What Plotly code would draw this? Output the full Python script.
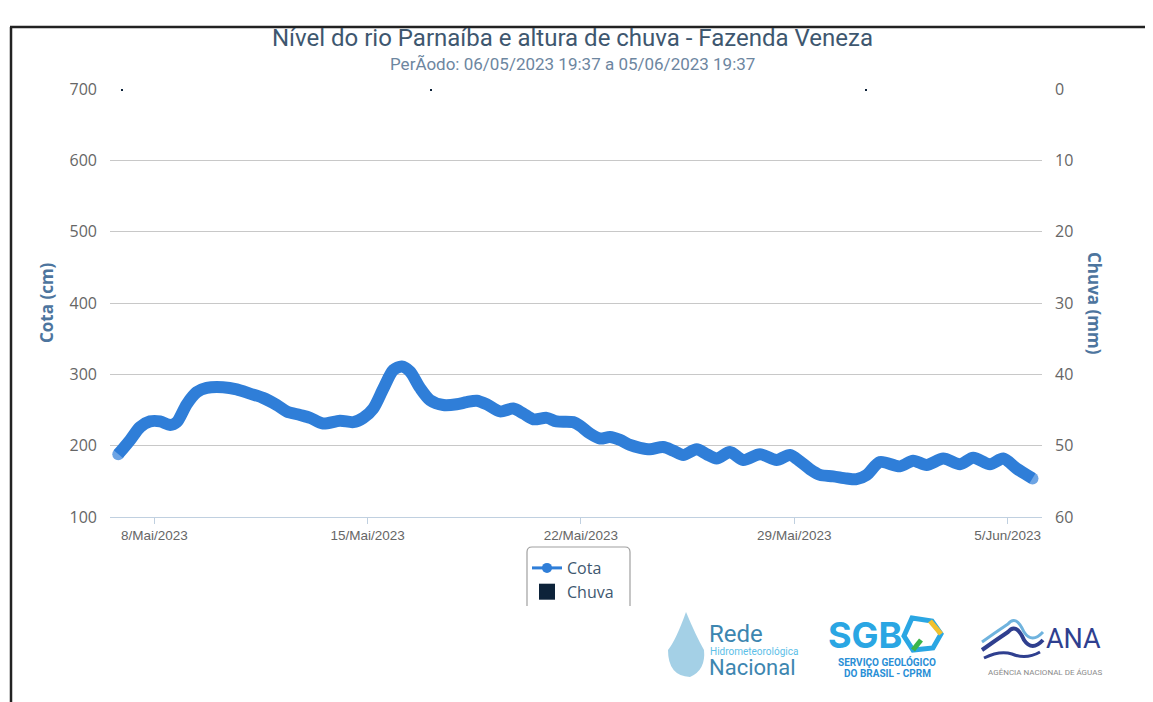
import plotly.graph_objects as go

# ---------------- data ----------------
cota_time = [
    "2023-05-06 19:37", "2023-05-07 05:00", "2023-05-07 12:45", "2023-05-07 20:35",
    "2023-05-08 04:30", "2023-05-08 12:25", "2023-05-08 17:40", "2023-05-09 01:30",
    "2023-05-09 09:25", "2023-05-09 17:15", "2023-05-10 06:05", "2023-05-10 16:55",
    "2023-05-11 03:20", "2023-05-11 13:35", "2023-05-12 00:25", "2023-05-12 08:15",
    "2023-05-12 18:45", "2023-05-13 02:40", "2023-05-13 12:50", "2023-05-14 02:15",
    "2023-05-14 12:40", "2023-05-14 20:35", "2023-05-15 04:25", "2023-05-15 12:20",
    "2023-05-15 20:15", "2023-05-16 02:50", "2023-05-16 09:20", "2023-05-16 17:15",
    "2023-05-17 01:05", "2023-05-17 11:35", "2023-05-17 22:10", "2023-05-18 06:00",
    "2023-05-18 13:55", "2023-05-18 21:45", "2023-05-19 08:15", "2023-05-19 18:40",
    "2023-05-20 02:35", "2023-05-20 10:30", "2023-05-20 21:00", "2023-05-21 04:50",
    "2023-05-21 18:00", "2023-05-21 23:15", "2023-05-22 07:05", "2023-05-22 15:00",
    "2023-05-22 22:50", "2023-05-23 06:45", "2023-05-23 14:35", "2023-05-23 22:30",
    "2023-05-24 06:20", "2023-05-24 16:50", "2023-05-25 00:40", "2023-05-25 08:35",
    "2023-05-25 19:05", "2023-05-26 03:00", "2023-05-26 10:50", "2023-05-26 21:20",
    "2023-05-27 07:50", "2023-05-27 21:00", "2023-05-28 10:05", "2023-05-28 20:35",
    "2023-05-29 04:30", "2023-05-29 12:20", "2023-05-29 20:15", "2023-05-30 06:40",
    "2023-05-30 17:15", "2023-05-31 01:05", "2023-05-31 09:00", "2023-05-31 19:30",
    "2023-06-01 11:15", "2023-06-01 21:40", "2023-06-02 08:15", "2023-06-02 21:20",
    "2023-06-03 10:30", "2023-06-03 21:00", "2023-06-04 10:05", "2023-06-04 20:35",
    "2023-06-05 07:05", "2023-06-05 19:37",
]
cota_cm = [
    188, 208, 226, 234,
    234, 229, 233, 258,
    275, 281, 282, 279,
    273, 267, 257, 248,
    243, 239, 231, 235,
    233, 239, 252, 280,
    306, 311, 304, 281,
    264, 257, 258, 261,
    263, 258, 248, 252,
    245, 237, 239, 234,
    233, 228, 217, 210,
    212, 208, 201, 197,
    195, 198, 193, 187,
    195, 188, 182, 191,
    180, 188, 180, 187,
    178, 167, 159, 157,
    154, 153, 159, 177,
    171, 179, 173, 182,
    174, 183, 174, 182,
    168, 154,
]

chuva_time = ["2023-05-06 22:35", "2023-05-17 01:55", "2023-05-31 08:30"]
chuva_mm = [0.3, 0.3, 0.2]

xtick_vals = ["2023-05-08", "2023-05-15", "2023-05-22", "2023-05-29", "2023-06-05"]
xtick_text = ["8/Mai/2023", "15/Mai/2023", "22/Mai/2023", "29/Mai/2023", "5/Jun/2023"]

cota_ticks = [100, 200, 300, 400, 500, 600, 700]
chuva_ticks = [0, 10, 20, 30, 40, 50, 60]

title_text = "Nível do rio Parnaíba e altura de chuva - Fazenda Veneza"
subtitle_text = "PerÃodo: 06/05/2023 19:37 a 05/06/2023 19:37"

# ---------------- figure ----------------
OFF = 8  # page body margin
W, H = 1153 - OFF, 702 - OFF
L, R, T, B = 110, 1042, 89, 517  # plot area in target-image pixels


def px(x):
    return (x - L) / (R - L)


def py(y):
    return (B - y) / (B - T)


BLUE = "#2f7ed8"
DARK = "#0d233a"

n = len(cota_cm)
end_sizes = [12] + [0] * (n - 2) + [12]

fig = go.Figure()

fig.add_trace(go.Bar(
    x=chuva_time, y=chuva_mm, name="Chuva", yaxis="y2",
    marker=dict(color=DARK, line=dict(width=0)), width=2 * 3600 * 1000,
    showlegend=False, hoverinfo="x+y",
))

fig.add_trace(go.Scatter(
    x=cota_time, y=cota_cm, name="Cota", mode="lines+markers",
    line=dict(color=BLUE, width=12, shape="spline", smoothing=0.8),
    marker=dict(color=BLUE, size=end_sizes, line=dict(width=0)),
    showlegend=False,
))
# legend entries
fig.add_trace(go.Scatter(
    x=[None], y=[None], name="Cota", mode="lines+markers",
    line=dict(color=BLUE, width=3), marker=dict(color=BLUE, size=10),
    showlegend=True,
))
fig.add_trace(go.Scatter(
    x=[None], y=[None], name="Chuva", mode="markers",
    marker=dict(color=DARK, size=16, symbol="square"),
    showlegend=True,
))

tick_font = dict(family="Open Sans, sans-serif", size=16, color="#666666")

fig.update_layout(
    width=W, height=H,
    margin=dict(l=L - OFF, r=W - (R - OFF), t=T - OFF, b=H - (B - OFF), pad=0),
    paper_bgcolor="white", plot_bgcolor="white",
    showlegend=True,
    xaxis=dict(
        type="date", range=["2023-05-06 13:06", "2023-06-06 03:06"],
        tickvals=xtick_vals, ticktext=xtick_text,
        tickfont=dict(family="Liberation Sans, Arial, sans-serif", size=13.5, color="#666666"),
        ticks="outside", ticklen=6, tickcolor="#C0D0E0",
        showline=True, linecolor="#C0D0E0", linewidth=1,
        showgrid=False, zeroline=False,
    ),
    yaxis=dict(
        range=[100, 700], tickvals=cota_ticks,
        tickfont=tick_font, ticklabelstandoff=12,
        showgrid=True, gridcolor="#C8C8C8", gridwidth=1,
        zeroline=False, showline=False,
    ),
    yaxis2=dict(
        overlaying="y", side="right", range=[60, 0], tickvals=chuva_ticks,
        tickfont=tick_font, ticklabelstandoff=12,
        showgrid=False, zeroline=False, showline=False,
    ),
    legend=dict(
        x=px(527), y=py(551), xanchor="left", yanchor="top",
        orientation="v",
        bgcolor="rgba(0,0,0,0)", borderwidth=0,
        font=dict(family="Open Sans, sans-serif", size=16, color="#3E576F"),
        itemwidth=30, tracegroupgap=2,
    ),
    bargap=0,
)

annotations = [
    dict(text=title_text, x=px(572), y=py(38.5), xref="paper", yref="paper",
         showarrow=False, xanchor="center", yanchor="middle",
         font=dict(family="Roboto, sans-serif", size=24, color="#3E576F")),
    dict(text=subtitle_text, x=px(572), y=py(64), xref="paper", yref="paper",
         showarrow=False, xanchor="center", yanchor="middle",
         font=dict(family="Roboto, sans-serif", size=17, color="#6D869F")),
    dict(text="<b>Cota (cm)</b>", x=px(46), y=py(303), xref="paper", yref="paper",
         showarrow=False, textangle=-90, xanchor="center", yanchor="middle",
         font=dict(family="Open Sans, sans-serif", size=17, color="#4d759e")),
    dict(text="<b>Chuva (mm)</b>", x=px(1095), y=py(303), xref="paper", yref="paper",
         showarrow=False, textangle=90, xanchor="center", yanchor="middle",
         font=dict(family="Open Sans, sans-serif", size=17, color="#4d759e")),
    # logos (text parts)
    dict(text="Rede", x=px(707), y=py(634), xref="paper", yref="paper", showarrow=False,
         xanchor="left", yanchor="middle",
         font=dict(family="Roboto, sans-serif", size=24, color="#3d86b0")),
    dict(text="Hidrometeorológica", x=px(708), y=py(651), xref="paper", yref="paper",
         showarrow=False, xanchor="left", yanchor="middle",
         font=dict(family="Roboto, sans-serif", size=10, color="#5cc0e8")),
    dict(text="Nacional", x=px(707), y=py(667), xref="paper", yref="paper", showarrow=False,
         xanchor="left", yanchor="middle",
         font=dict(family="Roboto, sans-serif", size=22, color="#3d86b0")),
    dict(text="<b>SGB</b>", x=px(826), y=py(635), xref="paper", yref="paper", showarrow=False,
         xanchor="left", yanchor="middle",
         font=dict(family="Inter, sans-serif", size=36, color="#2aa6e3")),
    dict(text="<b>SERVIÇO GEOLÓGICO</b>", x=px(887), y=py(662), xref="paper", yref="paper",
         showarrow=False, xanchor="center", yanchor="middle",
         font=dict(family="Roboto, sans-serif", size=10, color="#2a8fd6")),
    dict(text="<b>DO BRASIL - CPRM</b>", x=px(887), y=py(673), xref="paper", yref="paper",
         showarrow=False, xanchor="center", yanchor="middle",
         font=dict(family="Roboto, sans-serif", size=10, color="#2a8fd6")),
    dict(text="ANA", x=px(1044), y=py(639), xref="paper", yref="paper", showarrow=False,
         xanchor="left", yanchor="middle",
         font=dict(family="Roboto, sans-serif", size=27, color="#2f3f8f")),
    dict(text="AGÊNCIA NACIONAL DE ÁGUAS", x=px(1045), y=py(672), xref="paper", yref="paper",
         showarrow=False, xanchor="center", yanchor="middle",
         font=dict(family="Roboto, sans-serif", size=8, color="#8a8a8a")),
]
fig.update_layout(annotations=annotations)

# legend rounded box (cut off at bottom), frame lines, simple logo marks
rx, ry = 5 / (R - L), 5 / (B - T)
x0, x1 = px(527), px(630)
y0, y1 = py(547), py(606)
legend_path = (f"M {x0},{y1} L {x0},{y0 - ry} Q {x0},{y0} {x0 + rx},{y0} "
               f"L {x1 - rx},{y0} Q {x1},{y0} {x1},{y0 - ry} L {x1},{y1}")

shapes = [
    dict(type="path", path=legend_path, xref="paper", yref="paper",
         line=dict(color="#A0A0A0", width=1.2)),
    # screenshot frame
    dict(type="line", xref="paper", yref="paper", x0=px(11), x1=px(11), y0=py(27), y1=py(710),
         line=dict(color="#222222", width=2.5)),
    dict(type="line", xref="paper", yref="paper", x0=px(10), x1=px(1160), y0=py(27), y1=py(27),
         line=dict(color="#222222", width=2.5)),
    # Rede logo drop / map
    dict(type="path", xref="paper", yref="paper",
         path=(f"M {px(686)},{py(612)} Q {px(676)},{py(640)} {px(668)},{py(650)} "
               f"Q {px(668)},{py(676)} {px(690)},{py(677)} Q {px(706)},{py(670)} {px(704)},{py(650)} "
               f"Q {px(696)},{py(636)} {px(686)},{py(612)} Z"),
         fillcolor="rgba(90,170,210,0.55)", line=dict(width=0)),
    # SGB hexagon mark
    dict(type="path", xref="paper", yref="paper",
         path=(f"M {px(912)},{py(618)} L {px(932)},{py(621)} L {px(941)},{py(634)} "
               f"L {px(933)},{py(648)} L {px(913)},{py(650)} L {px(904)},{py(636)} Z"),
         fillcolor="rgba(0,0,0,0)", line=dict(color="#2aa6e3", width=5)),
    dict(type="line", xref="paper", yref="paper", x0=px(930), x1=px(941), y0=py(621), y1=py(634),
         line=dict(color="#f2c12e", width=5)),
    dict(type="line", xref="paper", yref="paper", x0=px(913), x1=px(921), y0=py(650), y1=py(640),
         line=dict(color="#3cb54a", width=5)),
    # ANA waves
    dict(type="path", xref="paper", yref="paper",
         path=(f"M {px(982)},{py(650)} Q {px(996)},{py(640)} {px(1008)},{py(632)} "
               f"Q {px(1016)},{py(622)} {px(1024)},{py(640)} Q {px(1032)},{py(652)} {px(1043)},{py(640)}"),
         line=dict(color="#2f3f8f", width=4)),
    dict(type="path", xref="paper", yref="paper",
         path=(f"M {px(982)},{py(642)} Q {px(996)},{py(632)} {px(1008)},{py(624)} "
               f"Q {px(1016)},{py(614)} {px(1024)},{py(632)} Q {px(1032)},{py(644)} {px(1043)},{py(632)}"),
         line=dict(color="#6fb3de", width=3)),
    dict(type="path", xref="paper", yref="paper",
         path=(f"M {px(984)},{py(658)} Q {px(1000)},{py(650)} {px(1012)},{py(654)} "
               f"Q {px(1026)},{py(660)} {px(1040)},{py(652)}"),
         line=dict(color="#2f3f8f", width=3)),
]
fig.update_layout(shapes=shapes)

fig.write_html("out.html")
